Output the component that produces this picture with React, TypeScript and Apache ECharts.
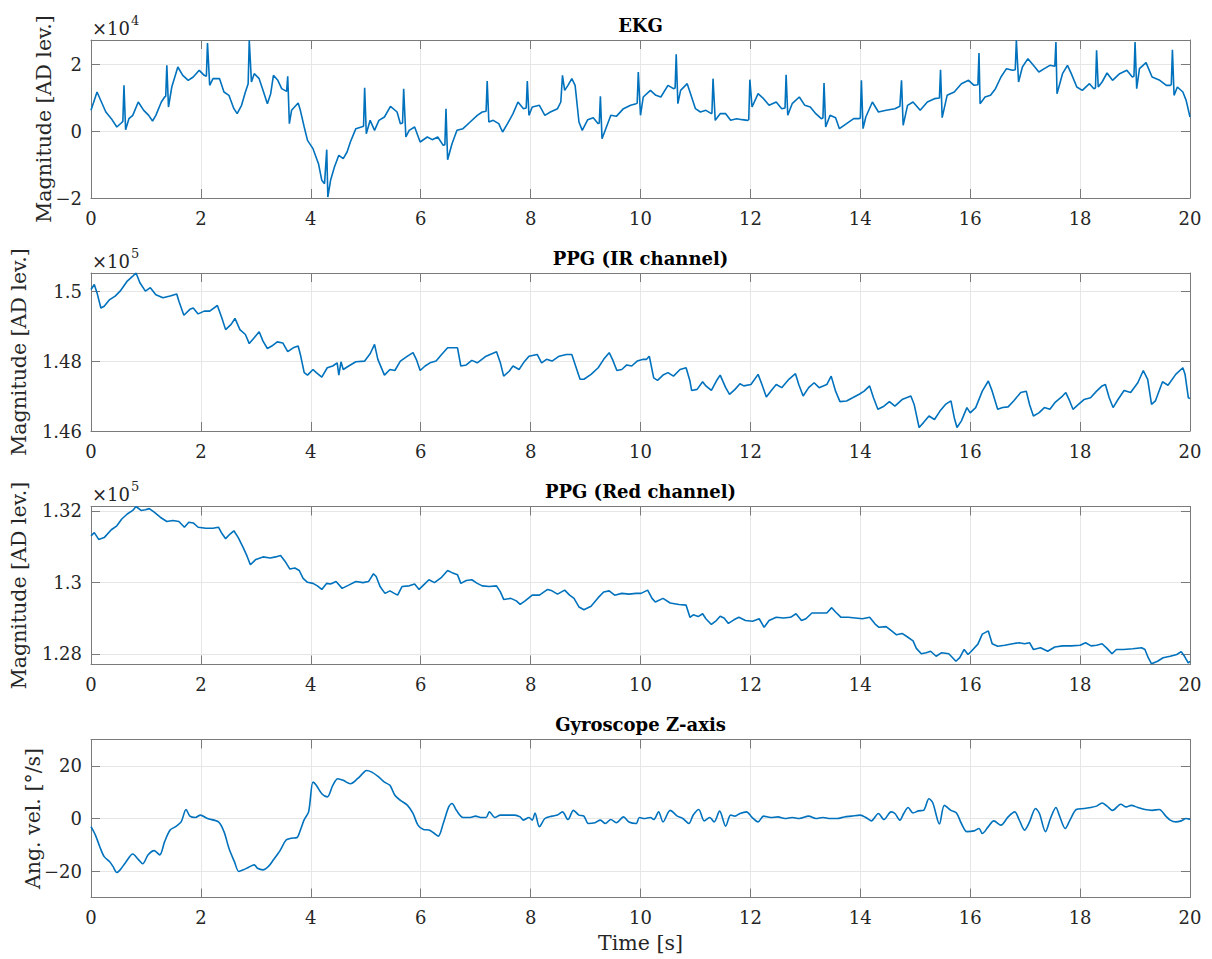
import React, { useEffect, useRef } from 'react';
import * as echarts from 'echarts';

// ---------- data ----------
const timeTicks = [0, 2, 4, 6, 8, 10, 12, 14, 16, 18, 20];
const ekgTicks = [-2, 0, 2];
const irTicks = [1.46, 1.48, 1.5];
const redTicks = [1.28, 1.3, 1.32];
const gyroTicks = [-20, 0, 20];

const titles = ['EKG', 'PPG (IR channel)', 'PPG (Red channel)', 'Gyroscope Z-axis'];
const yLabels = ['Magnitude [AD lev.]', 'Magnitude [AD lev.]', 'Magnitude [AD lev.]', 'Ang. vel. [°/s]'];
const exponents = ['4', '5', '5', ''];
const xLabel = 'Time [s]';

// EKG, units of 1e4 AD levels
const ekg: [number, number][] = [
  [0, 0.63], [0.11, 1.18], [0.27, 0.58], [0.37, 0.38], [0.47, 0.13], [0.55, 0.25], [0.58, 0.3], [0.6, 1.38], [0.63, 0.05],
  [0.69, 0.38], [0.76, 0.48], [0.86, 0.88], [0.96, 0.63], [1.05, 0.48], [1.12, 0.31], [1.18, 0.48], [1.28, 0.88],
  [1.34, 1.03], [1.36, 1.05], [1.38, 1.98], [1.41, 0.73], [1.47, 1.33], [1.58, 1.93], [1.67, 1.68], [1.77, 1.53],
  [1.86, 1.63], [1.97, 1.83], [2.06, 1.68], [2.1, 1.65], [2.12, 2.65], [2.16, 1.38], [2.22, 1.58], [2.34, 1.58],
  [2.42, 1.18], [2.51, 1.08], [2.6, 0.68], [2.66, 0.53], [2.74, 0.78], [2.81, 1.18], [2.86, 1.43], [2.88, 2.73],
  [2.92, 1.48], [2.97, 1.73], [3.06, 1.58], [3.13, 1.23], [3.21, 0.83], [3.27, 1.13], [3.32, 1.68], [3.4, 1.53],
  [3.47, 1.28], [3.56, 1.2], [3.58, 1.65], [3.61, 0.23], [3.65, 0.63], [3.77, 0.85], [3.81, 0.63], [3.88, 0.13],
  [3.94, -0.27], [4.04, -0.52], [4.14, -0.97], [4.2, -1.47], [4.25, -1.57], [4.29, -0.55], [4.31, -1.97],
  [4.36, -1.47], [4.43, -1.07], [4.51, -0.72], [4.59, -0.82], [4.66, -0.62], [4.72, -0.32], [4.82, 0.08],
  [4.92, 0.13], [4.96, 0.15], [4.98, 1.31], [5.01, -0.07], [5.08, 0.33], [5.16, 0.03], [5.24, 0.33], [5.34, 0.43],
  [5.45, 0.75], [5.57, 0.58], [5.63, 0.23], [5.67, 0.25], [5.69, 1.28], [5.73, -0.17], [5.79, 0.03], [5.89, 0.13],
  [5.99, -0.32], [6.12, -0.17], [6.21, -0.25], [6.31, -0.17], [6.41, -0.42], [6.44, -0.4], [6.46, 0.68], [6.49, -0.85],
  [6.57, -0.37], [6.66, 0.03], [6.77, 0.08], [6.9, 0.28], [7.03, 0.48], [7.12, 0.58], [7.19, 0.6], [7.21, 1.51],
  [7.24, 0.28], [7.32, 0.33], [7.42, 0.23], [7.49, -0.02], [7.58, 0.23], [7.68, 0.53], [7.77, 0.88], [7.87, 0.68],
  [7.92, 0.7], [7.94, 1.51], [7.97, 0.48], [8.03, 0.73], [8.16, 0.78], [8.26, 0.48], [8.36, 0.58], [8.49, 0.68],
  [8.55, 0.88], [8.58, 1.68], [8.62, 1.23], [8.68, 1.38], [8.75, 1.58], [8.81, 1.38], [8.88, 0.28], [8.94, 0.03],
  [9.04, 0.35], [9.14, 0.41], [9.23, 0.23], [9.25, 0.25], [9.27, 1.05], [9.3, -0.22], [9.38, 0.13], [9.46, 0.48],
  [9.56, 0.45], [9.69, 0.68], [9.82, 0.78], [9.92, 0.83], [9.94, 0.85], [9.96, 1.78], [10.0, 0.48], [10.05, 1.03],
  [10.18, 1.23], [10.28, 1.08], [10.37, 1.03], [10.5, 1.38], [10.6, 1.28], [10.63, 1.3], [10.65, 2.31], [10.68, 0.83],
  [10.73, 1.23], [10.85, 1.43], [10.9, 1.18], [11.0, 0.68], [11.09, 0.58], [11.19, 0.63], [11.29, 0.53], [11.3, 0.55],
  [11.32, 1.58], [11.36, 0.33], [11.45, 0.53], [11.55, 0.53], [11.64, 0.33], [11.75, 0.38], [11.85, 0.35],
  [11.95, 0.33], [11.97, 0.35], [11.99, 1.55], [12.03, 0.73], [12.14, 1.13], [12.24, 0.98], [12.34, 0.78],
  [12.47, 0.88], [12.57, 0.68], [12.63, 0.7], [12.65, 1.7], [12.68, 0.48], [12.76, 0.83], [12.89, 1.03], [12.99, 0.78],
  [13.09, 0.73], [13.19, 0.53], [13.29, 0.38], [13.32, 0.4], [13.34, 1.45], [13.37, 0.13], [13.45, 0.48], [13.55, 0.41],
  [13.62, 0.08], [13.75, 0.23], [13.88, 0.38], [13.98, 0.38], [14.0, 0.4], [14.02, 1.53], [14.05, 0.08], [14.1, 0.43],
  [14.22, 0.88], [14.33, 0.58], [14.47, 0.63], [14.63, 0.68], [14.72, 0.75], [14.73, 0.75], [14.75, 1.53], [14.78, 0.18],
  [14.86, 0.78], [14.96, 0.88], [15.09, 0.63], [15.22, 0.88], [15.35, 0.98], [15.44, 1.0], [15.46, 1.85], [15.49, 0.41],
  [15.58, 1.08], [15.71, 1.18], [15.84, 1.43], [15.97, 1.53], [16.07, 1.38], [16.14, 1.4], [16.16, 2.35], [16.18, 0.83],
  [16.27, 1.03], [16.37, 1.08], [16.46, 1.28], [16.56, 1.63], [16.66, 1.88], [16.77, 1.83], [16.82, 1.85], [16.84, 2.73],
  [16.88, 1.48], [16.95, 1.93], [17.05, 2.18], [17.15, 1.98], [17.25, 1.78], [17.35, 1.88], [17.45, 1.98], [17.54, 1.95],
  [17.56, 2.68], [17.58, 1.13], [17.68, 1.73], [17.77, 1.98], [17.84, 1.73], [17.94, 1.33], [18.04, 1.23], [18.17, 1.43],
  [18.25, 1.28], [18.28, 1.3], [18.3, 2.43], [18.33, 1.33], [18.4, 1.48], [18.49, 1.75], [18.59, 1.53], [18.72, 1.73],
  [18.85, 1.83], [18.95, 1.63], [18.98, 1.65], [19.0, 2.68], [19.03, 1.28], [19.08, 1.88], [19.2, 2.06], [19.31, 1.63],
  [19.45, 1.53], [19.57, 1.38], [19.64, 1.38], [19.66, 1.4], [19.68, 2.45], [19.71, 1.08], [19.77, 1.33], [19.87, 1.18],
  [19.93, 0.93], [20.0, 0.43],
];

// PPG IR, units of 1e5 AD levels
const ppgIr: [number, number][] = [
  [0, 1.5005], [0.06, 1.5019], [0.11, 1.4995], [0.18, 1.4952], [0.24, 1.4957], [0.34, 1.4976], [0.44, 1.4986], [0.53, 1.5],
  [0.66, 1.5029], [0.76, 1.5043], [0.82, 1.5052], [0.89, 1.5024], [0.99, 1.5], [1.08, 1.501], [1.18, 1.499], [1.31, 1.4981],
  [1.44, 1.4986], [1.56, 1.4992], [1.6, 1.4971], [1.69, 1.4931], [1.8, 1.4948], [1.86, 1.4952], [1.95, 1.4935], [2.06, 1.4943],
  [2.16, 1.4943], [2.3, 1.4959], [2.38, 1.4924], [2.45, 1.489], [2.55, 1.4905], [2.62, 1.4922], [2.71, 1.489], [2.81, 1.4876],
  [2.88, 1.485], [2.97, 1.4867], [3.06, 1.4884], [3.13, 1.4857], [3.21, 1.4836], [3.29, 1.4843], [3.39, 1.4855], [3.49, 1.4852],
  [3.58, 1.4827], [3.68, 1.4838], [3.77, 1.4843], [3.81, 1.4819], [3.88, 1.4767], [3.94, 1.476], [4.04, 1.4776], [4.1, 1.4767],
  [4.2, 1.4754], [4.3, 1.4781], [4.4, 1.4786], [4.48, 1.4795], [4.51, 1.476], [4.55, 1.4798], [4.59, 1.4776], [4.69, 1.4786],
  [4.82, 1.4798], [4.98, 1.48], [5.08, 1.4821], [5.16, 1.4848], [5.22, 1.4805], [5.34, 1.476], [5.44, 1.4776], [5.53, 1.4773],
  [5.63, 1.48], [5.76, 1.4814], [5.86, 1.4824], [5.92, 1.4805], [5.99, 1.4773], [6.08, 1.4786], [6.17, 1.4795], [6.28, 1.48],
  [6.38, 1.4819], [6.49, 1.4838], [6.67, 1.4838], [6.73, 1.4786], [6.83, 1.4789], [6.93, 1.4802], [7.03, 1.4795], [7.19, 1.4814],
  [7.38, 1.4827], [7.45, 1.4795], [7.51, 1.4757], [7.61, 1.4771], [7.68, 1.4786], [7.79, 1.4776], [7.87, 1.4795], [7.97, 1.4814],
  [8.12, 1.4819], [8.2, 1.4795], [8.29, 1.4805], [8.39, 1.48], [8.52, 1.4814], [8.65, 1.4819], [8.75, 1.4819], [8.81, 1.479],
  [8.9, 1.4748], [8.97, 1.4748], [9.1, 1.4762], [9.23, 1.4781], [9.33, 1.4805], [9.43, 1.4824], [9.49, 1.4805], [9.57, 1.4773],
  [9.66, 1.4776], [9.75, 1.4789], [9.84, 1.4786], [9.94, 1.48], [10.05, 1.4805], [10.11, 1.4805], [10.16, 1.4814], [10.24, 1.4752],
  [10.31, 1.4745], [10.41, 1.476], [10.5, 1.4767], [10.6, 1.4757], [10.72, 1.4776], [10.83, 1.4781], [10.9, 1.4743], [10.93, 1.4716],
  [11.03, 1.4719], [11.13, 1.4741], [11.19, 1.4729], [11.29, 1.4716], [11.38, 1.4743], [11.45, 1.476], [11.55, 1.4724], [11.62, 1.4705],
  [11.72, 1.4719], [11.81, 1.4735], [11.88, 1.4729], [12.01, 1.4733], [12.14, 1.4762], [12.21, 1.4733], [12.29, 1.4697], [12.37, 1.4714],
  [12.47, 1.4733], [12.57, 1.4724], [12.7, 1.4748], [12.82, 1.4764], [12.88, 1.4733], [12.96, 1.47], [13.06, 1.4724], [13.16, 1.4738],
  [13.25, 1.4724], [13.39, 1.4733], [13.47, 1.4757], [13.55, 1.4714], [13.63, 1.4684], [13.75, 1.4686], [13.86, 1.4695], [13.98, 1.4705],
  [14.07, 1.4714], [14.17, 1.4729], [14.24, 1.4695], [14.32, 1.4662], [14.43, 1.4671], [14.53, 1.4684], [14.63, 1.4671], [14.76, 1.469],
  [14.92, 1.47], [14.98, 1.4676], [15.07, 1.461], [15.15, 1.4624], [15.25, 1.4643], [15.35, 1.4633], [15.45, 1.4657], [15.55, 1.4676],
  [15.65, 1.4686], [15.71, 1.4638], [15.76, 1.461], [15.84, 1.4629], [15.94, 1.4667], [16.0, 1.4652], [16.1, 1.4667], [16.22, 1.4714],
  [16.33, 1.4743], [16.4, 1.4714], [16.5, 1.4662], [16.59, 1.4667], [16.69, 1.4669], [16.79, 1.4686], [16.92, 1.471], [17.02, 1.4714],
  [17.08, 1.4676], [17.15, 1.4643], [17.25, 1.4652], [17.35, 1.4667], [17.45, 1.4662], [17.54, 1.4681], [17.68, 1.47], [17.74, 1.471],
  [17.81, 1.4686], [17.87, 1.4662], [17.97, 1.4676], [18.07, 1.469], [18.19, 1.4695], [18.3, 1.4714], [18.4, 1.4729], [18.46, 1.4733],
  [18.53, 1.4695], [18.6, 1.4667], [18.69, 1.469], [18.8, 1.4716], [18.92, 1.471], [19.05, 1.4738], [19.15, 1.4773], [19.23, 1.4748],
  [19.3, 1.4676], [19.37, 1.4686], [19.5, 1.4741], [19.6, 1.4731], [19.74, 1.4762], [19.87, 1.4781], [19.91, 1.4762], [19.97, 1.4695],
  [20, 1.4693],
];

// PPG Red, units of 1e5 AD levels
const ppgRed: [number, number][] = [
  [0, 1.313], [0.06, 1.3139], [0.14, 1.312], [0.24, 1.3125], [0.37, 1.3147], [0.47, 1.3158], [0.56, 1.3177], [0.66, 1.3191],
  [0.76, 1.3201], [0.82, 1.3212], [0.91, 1.3201], [0.99, 1.3203], [1.06, 1.3206], [1.15, 1.3196], [1.26, 1.3182], [1.38, 1.317],
  [1.49, 1.3173], [1.6, 1.317], [1.7, 1.3154], [1.78, 1.3168], [1.86, 1.3166], [1.95, 1.3154], [2.09, 1.3151], [2.22, 1.3151],
  [2.32, 1.3154], [2.38, 1.3137], [2.45, 1.3122], [2.53, 1.3135], [2.6, 1.3144], [2.68, 1.3125], [2.77, 1.3097], [2.84, 1.3073],
  [2.9, 1.3049], [3.0, 1.3064], [3.13, 1.3071], [3.26, 1.3068], [3.36, 1.3071], [3.45, 1.3075], [3.53, 1.3059], [3.62, 1.3037],
  [3.71, 1.304], [3.79, 1.3033], [3.86, 1.3011], [3.94, 1.3], [4.04, 1.2997], [4.12, 1.299], [4.2, 1.298], [4.29, 1.2997],
  [4.36, 1.2995], [4.46, 1.3002], [4.57, 1.2983], [4.69, 1.2992], [4.82, 1.3002], [4.95, 1.2999], [5.05, 1.3002], [5.14, 1.3024],
  [5.19, 1.3016], [5.26, 1.2988], [5.35, 1.2969], [5.44, 1.2976], [5.52, 1.2969], [5.58, 1.2964], [5.66, 1.2988], [5.79, 1.299],
  [5.89, 1.2995], [5.97, 1.298], [6.05, 1.2992], [6.15, 1.3007], [6.25, 1.2999], [6.38, 1.3014], [6.49, 1.3033], [6.57, 1.3027],
  [6.67, 1.3021], [6.73, 1.2997], [6.83, 1.3005], [6.93, 1.3007], [7.03, 1.2997], [7.12, 1.299], [7.25, 1.2988], [7.38, 1.299],
  [7.45, 1.2973], [7.51, 1.2952], [7.64, 1.2955], [7.74, 1.2948], [7.81, 1.2938], [7.9, 1.2948], [8.03, 1.2964], [8.16, 1.2964],
  [8.31, 1.298], [8.39, 1.2976], [8.49, 1.2967], [8.62, 1.2978], [8.71, 1.2964], [8.79, 1.2955], [8.88, 1.2931], [8.97, 1.2923],
  [9.1, 1.2933], [9.23, 1.2957], [9.33, 1.2973], [9.43, 1.2976], [9.53, 1.2964], [9.66, 1.2969], [9.79, 1.2967], [9.92, 1.2969],
  [10.01, 1.2969], [10.13, 1.2978], [10.21, 1.2955], [10.27, 1.2945], [10.41, 1.2955], [10.54, 1.2942], [10.7, 1.2938], [10.83, 1.2936],
  [10.9, 1.2902], [10.96, 1.2909], [11.05, 1.2904], [11.13, 1.2912], [11.19, 1.2898], [11.29, 1.2882], [11.38, 1.2893], [11.45, 1.2905],
  [11.52, 1.29], [11.6, 1.2885], [11.7, 1.2895], [11.79, 1.2902], [11.91, 1.2893], [12.04, 1.2891], [12.16, 1.2898], [12.25, 1.2874],
  [12.34, 1.2893], [12.47, 1.2902], [12.6, 1.29], [12.73, 1.2902], [12.83, 1.2912], [12.93, 1.2893], [13.01, 1.2898], [13.12, 1.2914],
  [13.25, 1.2914], [13.39, 1.2914], [13.48, 1.2929], [13.55, 1.2917], [13.65, 1.2902], [13.78, 1.2902], [13.91, 1.29], [14.04, 1.2898],
  [14.17, 1.2902], [14.27, 1.2883], [14.34, 1.2874], [14.47, 1.2876], [14.57, 1.2864], [14.66, 1.2853], [14.76, 1.2857], [14.86, 1.2847],
  [14.96, 1.2836], [15.02, 1.2815], [15.11, 1.28], [15.2, 1.2803], [15.28, 1.2807], [15.38, 1.2793], [15.48, 1.2803], [15.61, 1.28],
  [15.68, 1.2789], [15.74, 1.2779], [15.81, 1.2789], [15.89, 1.2812], [15.96, 1.2798], [16.02, 1.2807], [16.14, 1.2827], [16.22, 1.2855],
  [16.33, 1.2864], [16.4, 1.2828], [16.5, 1.2821], [16.63, 1.2824], [16.77, 1.2828], [16.89, 1.2831], [16.99, 1.2828], [17.08, 1.2831],
  [17.15, 1.2812], [17.28, 1.2817], [17.41, 1.2807], [17.54, 1.2819], [17.68, 1.2822], [17.84, 1.2822], [18.0, 1.2824], [18.1, 1.2831],
  [18.2, 1.2822], [18.3, 1.2824], [18.4, 1.2828], [18.49, 1.2815], [18.58, 1.28], [18.66, 1.2812], [18.79, 1.2812], [18.96, 1.2814],
  [19.12, 1.2817], [19.18, 1.2812], [19.24, 1.2789], [19.3, 1.2772], [19.41, 1.2779], [19.51, 1.2789], [19.64, 1.2793], [19.76, 1.2798],
  [19.84, 1.2806], [19.9, 1.2793], [19.97, 1.2774], [20, 1.2779],
];

// Gyroscope Z, deg/s
const gyro: [number, number][] = [
  [0, -3.1], [0.08, -6.3], [0.16, -10.7], [0.24, -14.5], [0.34, -16.4], [0.4, -18.2], [0.47, -20.5], [0.53, -19.5], [0.63, -16.7],
  [0.76, -13.5], [0.86, -15.5], [0.94, -17.2], [1.04, -13.8], [1.15, -12.2], [1.25, -13.8], [1.34, -8.8], [1.44, -4.4], [1.54, -3.1],
  [1.64, -1.3], [1.73, 3.4], [1.8, 0.9], [1.9, 0.4], [1.99, 1.3], [2.12, 0], [2.32, -1.3], [2.42, -5.0], [2.51, -11.3], [2.61, -16.4],
  [2.69, -20.1], [2.77, -19.5], [2.87, -18.5], [2.97, -17.6], [3.03, -18.9], [3.13, -19.5], [3.23, -18.2], [3.32, -15.7], [3.44, -12.2],
  [3.55, -8.2], [3.64, -7.5], [3.75, -7.2], [3.81, -4.4], [3.88, -0.4], [3.96, 2.5], [4.04, 13.8], [4.1, 12.6], [4.2, 9.4], [4.3, 8.2],
  [4.4, 12.6], [4.49, 15.1], [4.59, 14.5], [4.72, 13.2], [4.85, 15.1], [4.95, 17.2], [5.01, 18.2], [5.11, 17.6], [5.24, 15.7],
  [5.34, 13.8], [5.44, 12.6], [5.53, 8.8], [5.63, 6.9], [5.76, 5.0], [5.86, 1.9], [5.95, -2.5], [6.05, -4.2], [6.15, -4.4],
  [6.25, -5.7], [6.32, -6.7], [6.41, -1.9], [6.51, 4.4], [6.57, 5.7], [6.65, 3.1], [6.77, 0.4], [6.9, 0.4], [7.0, 0.9], [7.09, 0.4],
  [7.19, 0.4], [7.25, 2.5], [7.35, 0.4], [7.45, 1.3], [7.58, 1.3], [7.71, 1.3], [7.81, 0.6], [7.87, -0.6], [7.97, 0.4], [8.03, -0.6],
  [8.08, 2.1], [8.16, -3.1], [8.26, 0], [8.39, 0.9], [8.49, 1.3], [8.58, 2.5], [8.68, -0.4], [8.78, 3.1], [8.88, 1.3], [8.97, 0.9],
  [9.05, -1.9], [9.17, -1.6], [9.27, -0.6], [9.36, -1.9], [9.46, -0.4], [9.56, -1.6], [9.69, 0.6], [9.79, -1.3], [9.92, -1.9],
  [9.98, 0.4], [10.07, 0], [10.18, 0.4], [10.24, -0.4], [10.33, 2.5], [10.41, -1.3], [10.54, 3.1], [10.67, 0.9], [10.77, 0],
  [10.88, -1.9], [10.96, 1.3], [11.06, 3.4], [11.16, -0.9], [11.26, 0.4], [11.34, -1.3], [11.44, 2.8], [11.55, -2.9], [11.64, 1.3],
  [11.72, 0.9], [11.81, 1.9], [11.93, 2.5], [12.03, 0.4], [12.14, -1.3], [12.24, 0.9], [12.37, 0.4], [12.5, 0.6], [12.63, 0],
  [12.76, 0.4], [12.89, 0], [13.06, 0.9], [13.19, 0], [13.32, 0.4], [13.45, 0], [13.58, 0], [13.71, 0.6], [13.84, 0.9], [14.0, 1.3],
  [14.1, 0.4], [14.2, -0.9], [14.33, 1.9], [14.43, -0.4], [14.56, 2.5], [14.63, 1.9], [14.72, -0.6], [14.79, 1.9], [14.87, 4.2],
  [14.96, 2.1], [15.06, 2.9], [15.15, 3.1], [15.25, 7.5], [15.32, 5.9], [15.44, -2.1], [15.53, 5.0], [15.65, 3.1], [15.75, 2.1],
  [15.84, -1.9], [15.94, -5.0], [16.07, -4.7], [16.16, -3.8], [16.22, -5.7], [16.33, -3.1], [16.43, -0.9], [16.56, -2.5], [16.69, 0.6],
  [16.81, 2.5], [16.89, -0.4], [16.99, -4.4], [17.08, -1.3], [17.19, 3.8], [17.26, 1.9], [17.37, -5.0], [17.46, 0], [17.56, 4.2],
  [17.62, 1.3], [17.73, -3.8], [17.82, -0.4], [17.93, 3.4], [18.07, 3.8], [18.2, 4.2], [18.3, 4.7], [18.4, 5.9], [18.49, 4.7],
  [18.59, 3.1], [18.74, 5.4], [18.84, 4.4], [18.93, 5.0], [19.05, 4.2], [19.18, 3.4], [19.31, 3.1], [19.44, 3.4], [19.56, 0.9],
  [19.64, -0.6], [19.74, -1.3], [19.84, -0.9], [19.93, 0], [20, -0.4],
];

// ---------- styling ----------
const FONT = '"DejaVu Serif", "Liberation Serif", serif';
const BLUE = '#0072BD';
const BOX = '#7a7a7a';
const TXT = '#262626';
const GRID = '#e6e6e6';

const fmt = (ticks: number[]) => (v: number) => {
  const t = ticks.find((k) => Math.abs(k - v) < 1e-7);
  return t === undefined ? '' : String(t).replace('-', '\u2212');
};

export default function App() {
  const ref = useRef<HTMLDivElement>(null);
  useEffect(() => {
    document.body.style.margin = '0';
    const chart = echarts.init(ref.current!, null, { renderer: 'svg' });
    const L = 91;
    const W = 1099;
    const H = 158;
    const tops = [40, 273, 506.5, 739.5];
    const panels = [
      { data: ekg, ticks: ekgTicks, min: -2, max: 2.74, split: 2, ylx: 44, smooth: false },
      { data: ppgIr, ticks: irTicks, min: 1.46, max: 1.5052, split: 2, ylx: 19, smooth: false },
      { data: ppgRed, ticks: redTicks, min: 1.277, max: 1.3212, split: 2, ylx: 19, smooth: false },
      { data: gyro, ticks: gyroTicks, min: -30, max: 30, split: 3, ylx: 33, smooth: 0.3 },
    ];

    const grid: any[] = [];
    const xAxis: any[] = [];
    const yAxis: any[] = [];
    const series: any[] = [];
    const graphic: any[] = [];

    const lineCommon = { show: true, onZero: false, lineStyle: { color: BOX, width: 1 } };
    const tickCommon = { show: true, inside: true, length: 9, lineStyle: { color: BOX, width: 1 } };
    const labelCommon = { fontFamily: FONT, fontSize: 18, color: TXT };

    panels.forEach((p, i) => {
      const top = tops[i];
      grid.push({ left: L, top, width: W, height: H, show: false, containLabel: false });
      xAxis.push({
        gridIndex: i, type: 'value', min: 0, max: 20, interval: 2, position: 'bottom',
        axisLine: lineCommon, axisTick: tickCommon,
        axisLabel: { ...labelCommon, margin: 11, formatter: fmt(timeTicks) },
        splitLine: { show: true, lineStyle: { color: GRID, width: 1 } },
      });
      xAxis.push({
        gridIndex: i, type: 'value', min: 0, max: 20, interval: 2, position: 'top',
        axisLine: lineCommon, axisTick: tickCommon, axisLabel: { show: false }, splitLine: { show: false },
      });
      yAxis.push({
        gridIndex: i, type: 'value', min: p.min, max: p.max, splitNumber: p.split, position: 'left',
        axisLine: lineCommon, axisTick: tickCommon,
        axisLabel: { ...labelCommon, margin: 9, formatter: fmt(p.ticks) },
        splitLine: { show: true, lineStyle: { color: GRID, width: 1 } },
      });
      yAxis.push({
        gridIndex: i, type: 'value', min: p.min, max: p.max, splitNumber: p.split, position: 'right',
        axisLine: lineCommon, axisTick: tickCommon, axisLabel: { show: false }, splitLine: { show: false },
      });
      series.push({
        type: 'line', xAxisIndex: 2 * i, yAxisIndex: 2 * i, data: p.data,
        showSymbol: false, symbol: 'none', smooth: p.smooth, silent: true, clip: true,
        lineStyle: { color: BLUE, width: 1.6 },
      });
      graphic.push({
        type: 'text', x: L + W / 2, y: top - 15,
        style: { text: titles[i], fontFamily: FONT, fontSize: 18, fontWeight: 'bold', fill: '#000',
          align: 'center', verticalAlign: 'middle', textAlign: 'center', textVerticalAlign: 'middle' },
      });
      graphic.push({
        type: 'text', x: p.ylx, y: top + H / 2, rotation: Math.PI / 2,
        style: { text: yLabels[i], fontFamily: FONT, fontSize: 20.5, fill: TXT,
          align: 'center', verticalAlign: 'middle', textAlign: 'center', textVerticalAlign: 'middle' },
      });
      if (exponents[i]) {
        graphic.push({
          type: 'text', x: 92, y: top - 12,
          style: { text: '×10', fontFamily: FONT, fontSize: 18, fill: TXT,
            align: 'left', verticalAlign: 'middle', textAlign: 'left', textVerticalAlign: 'middle' },
        });
        graphic.push({
          type: 'text', x: 131, y: top - 20,
          style: { text: exponents[i], fontFamily: FONT, fontSize: 13, fill: TXT,
            align: 'left', verticalAlign: 'middle', textAlign: 'left', textVerticalAlign: 'middle' },
        });
      }
    });

    graphic.push({
      type: 'text', x: L + W / 2, y: 943,
      style: { text: xLabel, fontFamily: FONT, fontSize: 20.5, fill: TXT,
        align: 'center', verticalAlign: 'middle', textAlign: 'center', textVerticalAlign: 'middle' },
    });

    chart.setOption({
      animation: false,
      backgroundColor: '#ffffff',
      grid, xAxis, yAxis, series, graphic,
    });
    return () => chart.dispose();
  }, []);
  return <div ref={ref} style={{ width: 1212, height: 959 }} />;
}
